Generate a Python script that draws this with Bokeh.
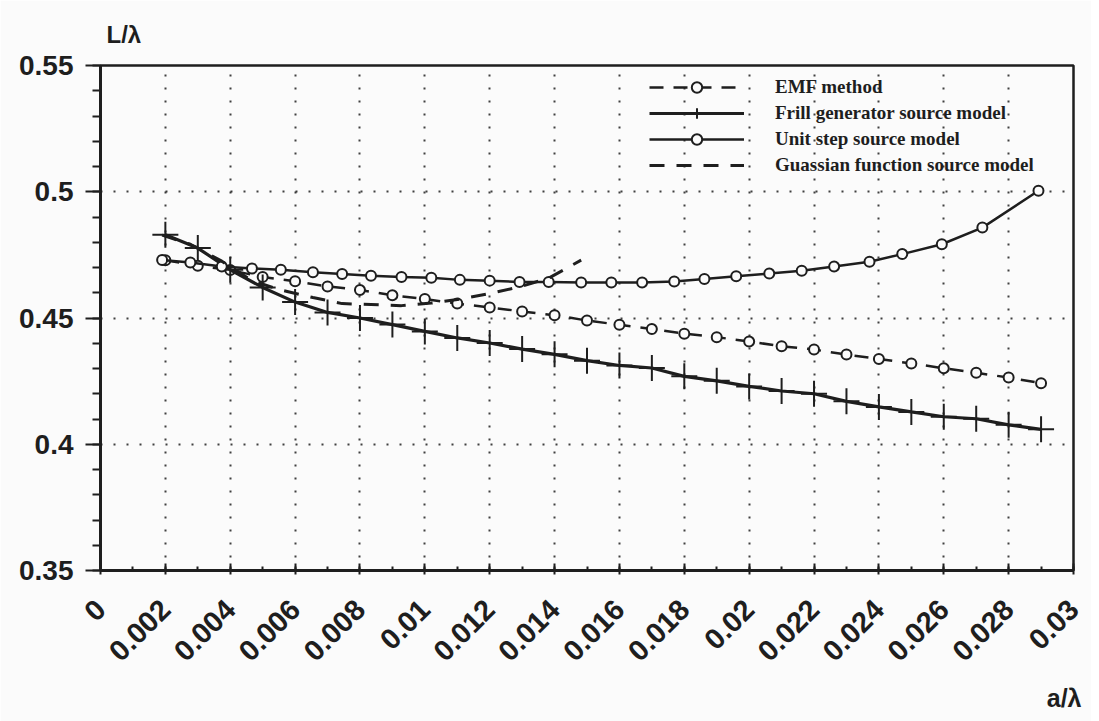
from bokeh.plotting import figure
from bokeh.models import FixedTicker, Legend, LegendItem, Title, Range1d
from bokeh.embed import file_html
from bokeh.resources import INLINE
import math

# ---------------- data ----------------
frill_x = [0.002, 0.003, 0.004, 0.005, 0.006, 0.007, 0.008, 0.009, 0.010, 0.011,
           0.012, 0.013, 0.014, 0.015, 0.016, 0.017, 0.018, 0.019, 0.020, 0.021,
           0.022, 0.023, 0.024, 0.025, 0.026, 0.027, 0.028, 0.029]
frill_y = [0.4830, 0.4777, 0.4691, 0.4621, 0.4563, 0.4522, 0.4500, 0.4474, 0.4447, 0.4421,
           0.4401, 0.4377, 0.4356, 0.4331, 0.4312, 0.4302, 0.4269, 0.4251, 0.4229, 0.4211,
           0.4200, 0.4170, 0.4148, 0.4128, 0.4109, 0.4101, 0.4077, 0.4059]

emf_x = [0.002, 0.003, 0.004, 0.005, 0.006, 0.007, 0.008, 0.009, 0.010, 0.011,
         0.012, 0.013, 0.014, 0.015, 0.016, 0.017, 0.018, 0.019, 0.020, 0.021,
         0.022, 0.023, 0.024, 0.025, 0.026, 0.027, 0.028, 0.029]
emf_y = [0.4729, 0.4707, 0.4690, 0.4662, 0.4646, 0.4625, 0.4611, 0.4590, 0.4575, 0.4557,
         0.4542, 0.4526, 0.4511, 0.4490, 0.4473, 0.4456, 0.4438, 0.4424, 0.4407, 0.4388,
         0.4375, 0.4355, 0.4338, 0.4320, 0.4301, 0.4283, 0.4264, 0.4242]

unit_x = [0.0019, 0.00277, 0.00374, 0.00467, 0.00556, 0.00655, 0.00745, 0.00834, 0.00928, 0.0102,
          0.01108, 0.0120, 0.01292, 0.01382, 0.01482, 0.01575, 0.0167, 0.01769, 0.01862, 0.0196,
          0.02062, 0.02162, 0.02262, 0.02371, 0.02472, 0.02594, 0.02719, 0.02892]
unit_y = [0.4730, 0.4720, 0.4704, 0.4696, 0.4691, 0.4681, 0.4674, 0.4667, 0.4662, 0.4659,
          0.4651, 0.4648, 0.4643, 0.4643, 0.4641, 0.4641, 0.4641, 0.4645, 0.4654, 0.4665,
          0.4676, 0.4687, 0.4704, 0.4723, 0.4753, 0.4792, 0.4858, 0.5004]

gauss_x = [0.0019, 0.00277, 0.00374, 0.00467, 0.00556, 0.00655, 0.00745, 0.00834, 0.00928, 0.0102,
           0.01108, 0.0120, 0.01292, 0.01382, 0.01482]
gauss_y = [0.4828, 0.4792, 0.4725, 0.4648, 0.4611, 0.4581, 0.4557, 0.4553, 0.4549, 0.4559,
           0.4575, 0.4597, 0.4623, 0.4658, 0.4729]

x_ticks = [0.0, 0.002, 0.004, 0.006, 0.008, 0.010, 0.012, 0.014, 0.016,
           0.018, 0.020, 0.022, 0.024, 0.026, 0.028, 0.030]
x_labels = ["0", "0.002", "0.004", "0.006", "0.008", "0.01", "0.012", "0.014", "0.016",
            "0.018", "0.02", "0.022", "0.024", "0.026", "0.028", "0.03"]
y_ticks = [0.35, 0.40, 0.45, 0.50, 0.55]
y_labels = ["0.35", "0.4", "0.45", "0.5", "0.55"]

series_names = ["EMF method", "Frill generator source model",
                "Unit step source model", "Guassian function source model"]
y_title = "L/λ"
x_title = "a/λ"

# ---------------- figure ----------------
INK = "#1e1e1e"
BG = "#fbfbfb"
p = figure(width=1091, height=721, output_backend="svg", toolbar_location=None,
           x_range=Range1d(0, 0.03), y_range=Range1d(0.35, 0.55),
           min_border_left=100, min_border_right=18, min_border_top=65, min_border_bottom=141,
           background_fill_color=BG, border_fill_color=BG)

p.outline_line_color = INK
p.outline_line_width = 2.5

# grid
p.xgrid.ticker = FixedTicker(ticks=x_ticks)
p.ygrid.ticker = FixedTicker(ticks=y_ticks)
for g in (p.xgrid, p.ygrid):
    g.grid_line_color = INK
    g.grid_line_width = 2
    g.grid_line_dash = "2 11"
    g.grid_line_alpha = 0.85

# axes
x_minor = [0.001 * k for k in range(31)]
y_minor = [0.35 + 0.01 * k for k in range(21)]
p.xaxis.ticker = FixedTicker(ticks=x_ticks, minor_ticks=x_minor)
p.yaxis.ticker = FixedTicker(ticks=y_ticks, minor_ticks=y_minor)
p.xaxis.major_label_overrides = dict(zip(x_ticks, x_labels))
p.yaxis.major_label_overrides = dict(zip(y_ticks, y_labels))
p.xaxis.major_label_orientation = math.pi / 4

for ax in (p.xaxis, p.yaxis):
    ax.axis_line_color = INK
    ax.axis_line_width = 3
    ax.major_tick_line_color = INK
    ax.minor_tick_line_color = INK
    ax.major_tick_line_width = 2
    ax.minor_tick_line_width = 2
    ax.major_label_text_font = "Liberation Sans"
    ax.major_label_text_font_style = "bold"
    ax.major_label_text_color = INK

p.yaxis.major_label_text_font_size = "28px"
p.yaxis.major_tick_out = 15
p.yaxis.major_tick_in = 0
p.yaxis.minor_tick_out = 8
p.yaxis.minor_tick_in = 0
p.yaxis.major_label_standoff = 12

p.xaxis.major_label_text_font_size = "29px"
p.xaxis.major_tick_out = 4
p.xaxis.major_tick_in = 7
p.xaxis.minor_tick_out = 0
p.xaxis.minor_tick_in = 4
p.xaxis.major_label_standoff = 30

# ---------------- series ----------------
emf_line = p.line(emf_x, emf_y, line_color=INK, line_width=2.5, line_dash="14 10")
emf_pts = p.scatter(emf_x, emf_y, marker="circle", size=10, line_color=INK,
                    line_width=2, fill_color=BG)

frill_line = p.line(frill_x, frill_y, line_color=INK, line_width=3.2)
frill_pts = p.scatter(frill_x, frill_y, marker="cross", size=26, line_color=INK, line_width=2)

unit_line = p.line(unit_x, unit_y, line_color=INK, line_width=2.5)
unit_pts = p.scatter(unit_x, unit_y, marker="circle", size=10, line_color=INK,
                     line_width=2, fill_color=BG)

gauss_line = p.line(gauss_x, gauss_y, line_color=INK, line_width=3, line_dash="15 12")

legend = Legend(items=[
    LegendItem(label=series_names[0], renderers=[emf_line, emf_pts]),
    LegendItem(label=series_names[1], renderers=[frill_line, frill_pts]),
    LegendItem(label=series_names[2], renderers=[unit_line, unit_pts]),
    LegendItem(label=series_names[3], renderers=[gauss_line]),
], location=(549, 392))
legend.glyph_width = 95
legend.glyph_height = 26
legend.label_height = 26
legend.spacing = 0
legend.padding = 0
legend.margin = 0
legend.label_standoff = 31
legend.label_text_font = "Liberation Serif"
legend.label_text_font_style = "bold"
legend.label_text_font_size = "19px"
legend.label_text_color = INK
legend.background_fill_alpha = 0
legend.border_line_alpha = 0
p.add_layout(legend)

# axis titles
p.add_layout(Title(text=y_title, align="left", offset=6, standoff=35,
                   text_font="Liberation Sans", text_font_style="bold",
                   text_font_size="24px", text_color=INK), "above")
p.add_layout(Title(text=x_title, align="right", offset=-8, standoff=19,
                   text_font="Liberation Sans", text_font_style="bold",
                   text_font_size="25px", text_color=INK), "below")

open("out.html", "w").write(file_html(p, INLINE))
